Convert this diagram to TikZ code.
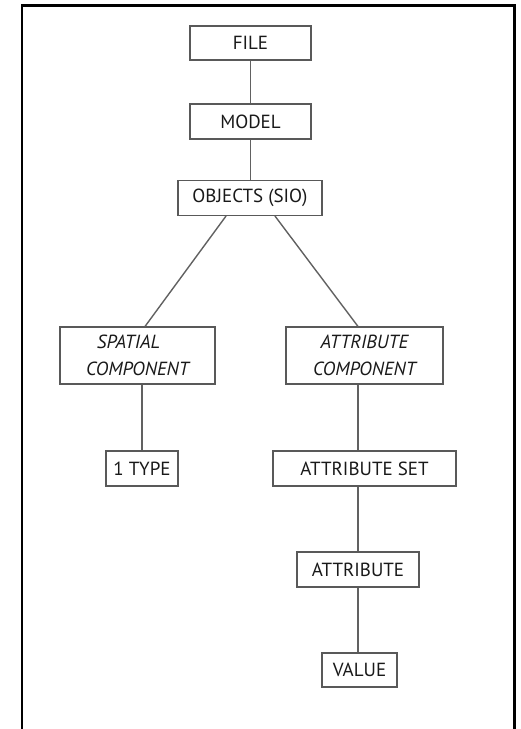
\documentclass[tikz,border=0pt]{standalone}
\usepackage{fontspec}
\setmainfont{PT Sans}
\usetikzlibrary{calc}
\begin{document}
\begin{tikzpicture}[x=1pt,y=1pt,
  box/.style={draw=black!65,line width=1.1pt,inner sep=0pt,text=black!90,font=\fontsize{19}{26.5}\selectfont,align=center},
  conn/.style={draw=black!62,line width=1.4pt}]
\useasboundingbox (0,0) rectangle (521,-729);
\draw[line width=2.6pt] (22,-729) -- (22,-5.3) -- (514.5,-5.3) -- (514.5,-729);
\node[box,minimum width=121,minimum height=34] (file) at (250.5,-43) {FILE};
\node[box,minimum width=121,minimum height=35] (model) at (250.5,-121.5) {MODEL};
\node[box,minimum width=144,minimum height=35] (objects) at (250,-198) {OBJECTS (SIO)};
\node[box,minimum width=155,minimum height=57] (spatial) at (137.5,-355.5) {\itshape SPATIAL\hspace*{18pt}\\\itshape COMPONENT};
\node[box,minimum width=157,minimum height=57] (attrcomp) at (364.5,-355.5) {\itshape ATTRIBUTE\\\itshape COMPONENT};
\node[box,minimum width=72,minimum height=35] (type) at (142,-468.5) {1 TYPE};
\node[box,minimum width=183,minimum height=35] (attrset) at (364.5,-468.5) {ATTRIBUTE SET};
\node[box,minimum width=122,minimum height=35] (attribute) at (358,-569.5) {ATTRIBUTE};
\node[box,minimum width=75,minimum height=34] (value) at (359.5,-670) {VALUE};
\draw[conn] (file.south) -- (model.north);
\draw[conn] (model.south) -- (model.south |- objects.north);
\draw[conn] ($(objects.south)+(-24,0)$) -- ($(spatial.north)+(7.5,0)$);
\draw[conn] ($(objects.south)+(25,0)$) -- ($(attrcomp.north)+(-6.5,0)$);
\draw[conn] (spatial.south -| type.north) -- (type.north);
\draw[conn] (attrcomp.south -| attribute.north) -- (attrset.north -| attribute.north);
\draw[conn] (attrset.south -| attribute.north) -- (attribute.north);
\draw[conn] (attribute.south) -- (value.north -| attribute.south);
\end{tikzpicture}
\end{document}
